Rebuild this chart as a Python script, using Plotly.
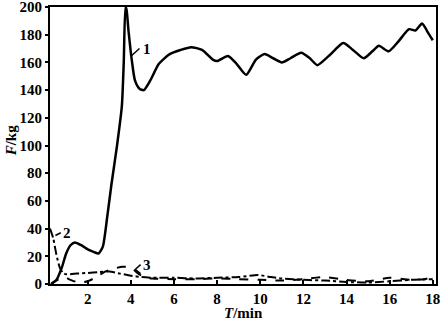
import plotly.graph_objects as go

# Curve 1 (solid)
x1 = [0.3, 0.55, 0.8, 1.0, 1.2, 1.4, 1.7, 2.0, 2.3, 2.5, 2.7, 2.9, 3.1, 3.35, 3.58, 3.67, 3.75, 3.8, 3.89, 4.04, 4.19, 4.4, 4.6, 4.9, 5.3, 5.8,
      6.3, 6.8, 7.3, 7.8, 8.0, 8.5, 8.9, 9.35, 9.8, 10.2, 10.6, 11.0, 11.4, 11.9, 12.3, 12.65, 13.2, 13.85, 14.3, 14.8,
      15.2, 15.5, 15.95, 16.4, 16.9, 17.2, 17.5, 17.8, 18.0]
y1 = [0, 3, 12, 22, 28, 30, 28, 25, 23, 22, 27, 48, 72, 99, 128, 160, 200, 198, 183, 162, 147, 141, 140, 147, 159, 166,
      169, 171, 169, 162, 161, 164.6, 159, 151, 162, 166, 163, 160, 163, 167, 163, 158, 165, 174, 169, 163,
      168, 172, 168, 175, 184, 183, 188, 181, 176]

# Curve 2 (dash-dot)
x2 = [0.25, 0.4, 0.55, 0.7, 0.85, 1.0, 1.5, 2.0, 2.5, 3.0, 3.5, 4.0, 4.5, 5, 6, 7, 8, 9, 9.9, 10.5, 11, 12, 13, 14, 15, 16, 17, 18]
y2 = [40, 33, 21, 12, 8, 7, 7.5, 8, 8.5, 9, 7.5, 6, 5, 4.5, 4.5, 4, 4.5, 5, 6.5, 5, 4, 3, 2.5, 1.5, 1, 2, 3, 3.5]

# Curve 3 (dashed)
x3 = [0.3, 0.6, 0.9, 1.2, 1.6, 2.0, 2.4, 2.8, 3.2, 3.6, 4.0, 4.3, 4.6, 5, 6, 7, 8, 9, 10, 11, 12, 13, 14, 15, 16, 17, 17.6, 18]
y3 = [0, 3, 5, 3, 1, 2, 5, 9, 11, 12.5, 12, 8, 5, 4, 3.5, 3.5, 4, 3.5, 3, 2.5, 3.5, 5, 3, 2, 4.5, 3, 3.5, 5]

x_ticks = [2, 4, 6, 8, 10, 12, 14, 16, 18]
y_ticks = [0, 20, 40, 60, 80, 100, 120, 140, 160, 180, 200]

FONT = "Liberation Serif"
TF = dict(family=FONT, size=15, color="black", weight="bold")

fig = go.Figure()
fig.add_trace(go.Scatter(x=x1, y=y1, mode="lines", line=dict(color="black", width=2.5, shape="spline", smoothing=0.6)))
fig.add_trace(go.Scatter(x=x2, y=y2, mode="lines", line=dict(color="black", width=2, dash="dashdot", shape="spline", smoothing=0.6)))
fig.add_trace(go.Scatter(x=x3, y=y3, mode="lines", line=dict(color="black", width=2, dash="dash", shape="spline", smoothing=0.6)))

ann_font = dict(family=FONT, size=15, color="black", weight="bold")
fig.add_annotation(x=4.45, y=170, text="1", showarrow=False, font=ann_font, xanchor="left")
fig.add_annotation(x=0.76, y=37, text="2", showarrow=False, font=ann_font, xanchor="left")
fig.add_annotation(x=4.45, y=14, text="3", showarrow=False, font=ann_font, xanchor="left")
# leader lines
fig.add_shape(type="line", x0=4.04, y0=165, x1=4.4, y1=170, line=dict(color="black", width=1.5))
fig.add_shape(type="line", x0=0.5, y0=35, x1=0.75, y1=37, line=dict(color="black", width=1.5))
fig.add_shape(type="line", x0=4.45, y0=14, x1=4.2, y1=10.5, line=dict(color="black", width=1.5))
fig.add_shape(type="line", x0=4.2, y0=10.5, x1=4.45, y1=7.5, line=dict(color="black", width=1.5))

# axis titles
fig.add_annotation(xref="paper", yref="paper", x=0.5, y=-0.105, yanchor="middle", text="<i>T</i>/min",
                   showarrow=False, font=TF)
fig.add_annotation(xref="paper", yref="paper", x=-0.1, y=0.52, xanchor="center", yanchor="middle",
                   text="<i>F</i>/kg", textangle=-90, showarrow=False, font=TF)

fig.update_layout(
    width=442, height=321,
    margin=dict(l=50, r=6, t=7, b=37),
    paper_bgcolor="white", plot_bgcolor="white",
    showlegend=False,
    font=dict(family=FONT, size=14, color="black"),
)
fig.update_xaxes(
    range=[0.25, 18.15], tickvals=x_ticks, ticktext=[str(v) for v in x_ticks], automargin=False,
    showgrid=False, zeroline=False, showline=True, linecolor="black", linewidth=2, mirror=True,
    ticks="inside", ticklen=4, tickcolor="black", tickwidth=1.5, ticklabeloverflow="allow",
    tickfont=TF,
)
fig.update_yaxes(
    range=[0, 200], tickvals=y_ticks, ticktext=[str(v) for v in y_ticks], automargin=False,
    showgrid=False, zeroline=False, showline=True, linecolor="black", linewidth=2, mirror=True,
    ticks="outside", ticklen=3, tickcolor="black", tickwidth=1.5, ticklabeloverflow="allow",
    tickfont=TF,
)

fig.write_html("out.html", config={"displayModeBar": False},
               post_script="document.body.style.margin='0';document.body.style.overflow='hidden';")
